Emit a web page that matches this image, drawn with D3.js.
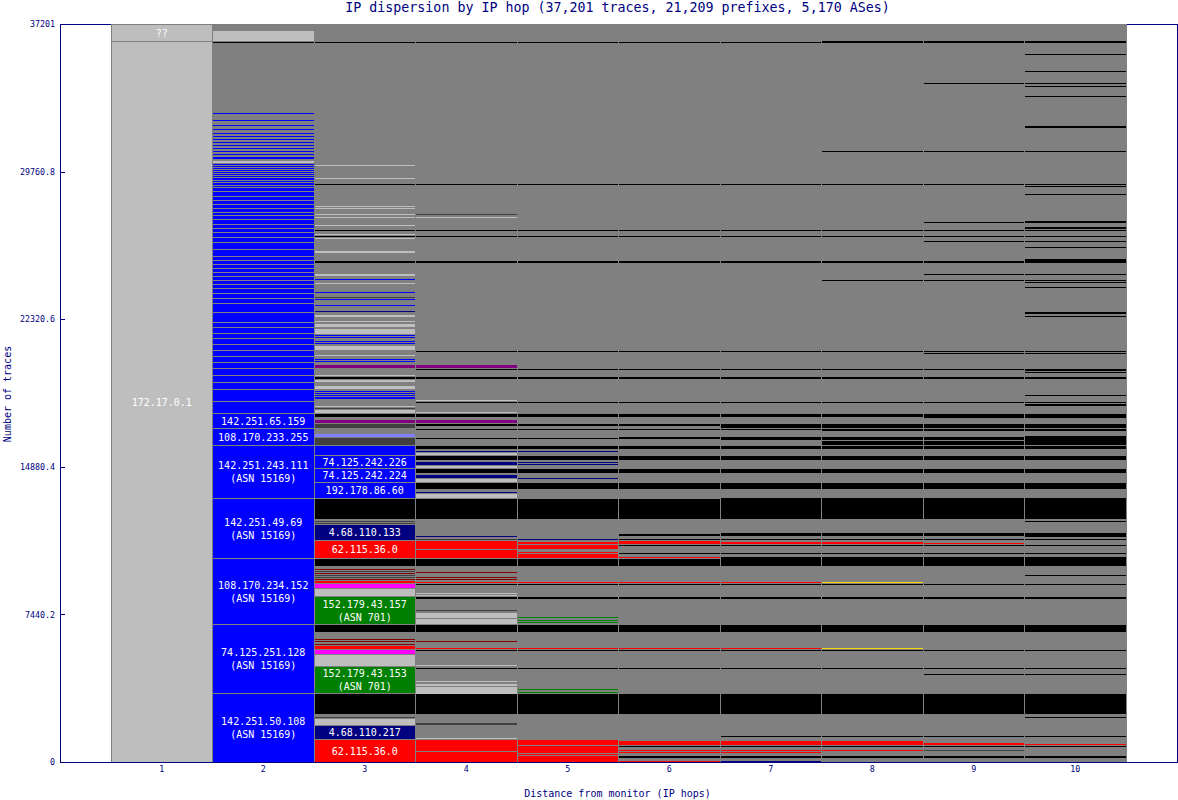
<!DOCTYPE html>
<html><head><meta charset="utf-8">
<script src="https://cdn.jsdelivr.net/npm/d3@7"></script>
<style>html,body{margin:0;padding:0;background:#fff}svg{display:block}text{font-family:"DejaVu Sans Mono",monospace}</style>
</head><body><svg id="c" width="1178" height="800"></svg>
<script>
const maxTraces = 37201;
const hopNumbers = [1,2,3,4,5,6,7,8,9,10];
const yTickValues = [0,7440.2,14880.4,22320.6,29760.8,37201];
const yTickLabels = ["0","7440.2","14880.4","22320.6","29760.8","37201"];
const chartTitle = "IP dispersion by IP hop (37,201 traces, 21,209 prefixes, 5,170 ASes)";
const xTitle = "Distance from monitor (IP hops)";
const yTitle = "Number of traces";

// band = [colour class, upper trace, lower trace, optional label]
const hop1 = [["L",37201,36338,"??"],["L",36338,0,"172.17.0.1"]];

const hop2Thin = [
 ["L",36893,36338],["B",36338,36238],
 ["U",32760,32659],["U",32407,32306],["U",32155,32054],["U",31954,31853],["U",31752,31651],
 ["U",31601,31500],["U",31450,31349],["U",31298,31198],["U",31147,31046],["U",30996,30895],
 ["U",30845,30744],["U",30694,30593],["U",30542,30391],["L",30341,30190]];
const hop2BlueCuts = [30190,30089,29988,29887,29786,29686,29585,29484,29333,29232,29081,28980,28778,28526,28325,28123,27922,27720,27569,27367,27115,26914,26712,26460,26208,25855,25502,25301,25099,24898,24696,24494,24293,24091,23890,23638,23386,23134,22680,22176,21924,21622,21370,21067,20765,20462,20160,19858,19505,19152,18799,18194,17590];
const hop2Named = [
 ["U",17590,16834,"142.251.65.159"],
 ["U",16834,15977,"108.170.233.255"],
 ["U",15977,13306,"142.251.243.111\n(ASN 15169)"],
 ["U",13306,10282,"142.251.49.69\n(ASN 15169)"],
 ["U",10282,6955,"108.170.234.152\n(ASN 15169)"],
 ["U",6955,3478,"74.125.251.128\n(ASN 15169)"],
 ["U",3478,0,"142.251.50.108\n(ASN 15169)"]];

const hop3 = [
 ["B",36338,36238],["L",30139,30038],["L",29484,29383],["B",29182,29081],["L",28073,27972],["L",27972,27871],
 ["L",27670,27569],["L",27518,27418],["L",27115,27014],["B",26863,26762],["L",26662,26561],["B",26561,26460],
 ["L",26460,26359],["L",25805,25654],["B",25301,25150],["L",24646,24494],["U",24394,24293],["L",24192,24091],
 ["U",23738,23638],["D",23486,23386],["U",23386,23285],["U",23083,22982],["N",22781,22680],["L",22579,22428],
 ["L",22277,22176],["L",22126,21924],["L",21874,21571],["U",21571,21470],["U",21470,21370],["U",21269,21168],
 ["U",21168,21067],["L",21017,20765],["L",20563,20462],["U",20362,20261],["U",20261,20160],["P",20059,19858],
 ["L",19555,19454],["B",19454,19303],["L",19303,19152],["L",19001,18799],["U",18749,18648],["U",18648,18547],
 ["U",18547,18446],["U",18446,18295],["L",17993,17892],["D",17892,17791],["L",17791,17590],["B",17590,17388],
 ["P",17287,17086],["D",17086,16834],["W",16582,16380],["D",16380,15977],["U",15977,15473],
 ["U",15473,14818,"74.125.242.226"],["U",14818,14112,"74.125.242.224"],["U",14112,13306,"192.178.86.60"],
 ["B",13306,12247],["D",12197,12096],["D",12096,11995],["N",11995,11189,"4.68.110.133"],["R",11189,10282,"62.115.36.0"],
 ["B",10282,9878],["K",9778,9677],["D",9677,9576],["K",9576,9475],["D",9475,9374],["D",9374,9274],["K",9274,9173],
 ["R",9173,9022],["M",9022,8770],["L",8770,8366],["G",8366,6955,"152.179.43.157\n(ASN 701)"],["B",6955,6552],
 ["K",6250,6149],["K",6149,6048],["K",5998,5897],["R",5897,5695],["M",5695,5443],["L",5443,4838],
 ["G",4838,3478,"152.179.43.153\n(ASN 701)"],["B",3478,2419],["D",2318,2218],["L",2218,1865],
 ["N",1865,1159,"4.68.110.217"],["R",1159,0,"62.115.36.0"]];

const blackHops4to10 = [
 [36338,36238],[29182,29081],[26863,26762],[26561,26460],[25301,25150],[20765,20664],[19858,19757],[19454,19303],
 [18194,18094],[17590,17388],[15977,15775],[15473,15221],[14818,14566],[14112,13759],[13306,12247],[10282,9878],
 [9022,8921],[8366,8215],[6955,6552],[5695,5594],[4788,4687],[3478,2419]];

const hop4 = [
 ["D",27670,27569],["L",27518,27418],["P",20059,19858],["L",18295,18194],["L",17690,17590],["P",17287,17086],
 ["B",17086,16934],["B",16834,16733],["B",16380,16279],["N",15725,15624],["L",15624,15473],["N",15170,14969],
 ["L",14969,14818],["N",14515,14314],["L",14314,14112],["N",13658,13558],["L",13558,13306],["N",11441,11340],
 ["D",11290,11189],["R",11189,10735],["R",10735,10282],["K",9626,9526],["K",9374,9274],["K",9274,9173],["R",9122,9022],
 ["L",8568,8467],["L",8467,8366],["D",7711,7610],["L",7560,7258],["L",7258,6955],["K",6149,6048],["R",5796,5695],
 ["L",4939,4838],["L",4133,4032],["L",3982,3830],["L",3830,3427],["D",2016,1865],["L",1260,1159],["R",1159,554],["R",554,0]];
const hop5 = [
 ["B",17086,16934],["B",16834,16733],["B",16380,16279],["N",15725,15624],["N",15170,15070],["N",15070,14969],["N",14364,14263],
 ["N",11290,11189],["R",11138,10987],["R",10987,10735],["R",10634,10534],["R",10534,10282],["R",9122,9022],
 ["G",7358,7258],["G",7207,7106],["G",7106,7006],["R",5796,5695],["G",3730,3629],["G",3578,3478],
 ["R",1159,857],["R",857,454],["R",454,353],["R",353,0]];
const hop6 = [
 ["B",17086,16934],["B",16834,16733],["B",16430,16279],["B",11542,11390],["B",11290,11189],["R",11189,10987],
 ["B",10987,10886],["B",10584,10483],["R",10382,10282],["R",9122,9022],["R",5796,5695],
 ["R",1109,857],["B",857,756],["R",655,554],["R",554,454],["B",353,202],["R",101,0]];
const hop7 = [
 ["B",17086,16834],["B",16834,16733],["B",16430,16229],["B",13356,13255],["B",11592,11390],["B",11290,11189],
 ["R",11138,10987],["B",10987,10886],["B",10584,10483],["B",10382,9878],["R",9122,9022],["R",5796,5695],
 ["B",1361,1260],["R",1109,857],["B",857,756],["R",655,554],["R",554,454],["B",353,202],["N",101,0]];
const hop8 = [
 ["B",36389,36238],["B",30845,30744],["B",24343,24242],["B",17086,16834],["B",16834,16682],["B",16430,16229],["B",16229,15977],
 ["B",13356,13255],["B",11592,11390],["B",11290,11189],["R",11138,10987],["B",10987,10886],["B",10584,10483],["B",10382,9878],
 ["Y",9122,9022],["Y",5796,5695],["B",1361,1260],["R",1109,857],["B",857,756],["R",655,554],["B",353,202]];
const hop9 = [
 ["B",36389,36238],["B",34272,34171],["B",30845,30744],["B",27266,27166],["B",26309,26208],["B",24646,24545],["B",24343,24242],
 ["B",20664,20563],["B",17438,17338],["B",17086,16834],["B",16834,16682],["B",16430,16229],["B",16229,15977],
 ["B",13356,13255],["B",11592,11390],["B",11290,11189],["R",11088,10987],["B",10987,10886],["B",10584,10483],["B",10382,9878],
 ["B",4486,4385],["B",1361,1260],["R",1008,857],["B",857,756],["D",655,554],["B",353,202]];
const hop10 = [
 ["B",36389,36238],["B",35734,35633],["B",34877,34776],["B",34272,34171],["B",34121,34020],["B",33617,33516],["B",32105,31954],
 ["B",30845,30744],["B",29081,28980],["B",28678,28577],["B",27317,27166],["B",27014,26863],["B",26309,26208],["B",26006,25906],
 ["B",25402,25150],["B",24646,24545],["B",24343,24242],["B",24242,24142],["B",23990,23890],["B",22730,22579],["B",22529,22428],
 ["B",20664,20563],["B",19858,19706],["B",19706,19606],["B",18547,18446],["B",18094,17942],["B",17438,17338],["B",17086,16834],
 ["B",16834,16682],["B",16481,15977],["B",13356,13255],["B",12197,12096],["B",11592,11340],["B",11290,11189],["B",10987,10886],
 ["B",10584,10483],["B",10382,9878],["B",9475,9374],["B",4486,4385],["B",2318,2218],["B",1361,1260],["R",958,857],["B",857,756],["B",353,202]];

const colours = {L:"#bebebe",B:"#000000",U:"#0000ff",N:"#000080",R:"#ff0000",G:"#008000",P:"#800080",
                 M:"#ff00ff",K:"#800000",D:"#404040",W:"#7f7fff",Y:"#ffd700"};

const common = blackHops4to10.map(([a,b]) => ["B",a,b]);
const columns = new Map([
 [1,hop1],
 [2,[...hop2Thin,...d3.pairs(hop2BlueCuts).map(([a,b]) => ["U",a,b]),...hop2Named]],
 [3,hop3],
 [4,[...common,...hop4]],[5,[...common,...hop5]],[6,[...common,...hop6]],[7,[...common,...hop7]],
 [8,[...common,...hop8]],[9,[...common,...hop9]],[10,[...common,...hop10]]]);

const W = {l:60,r:1177,t:24,b:762};
const svg = d3.select("#c");
const x = d3.scaleBand().domain(hopNumbers).range([111,1126]);
const y = d3.scaleLinear().domain([0,maxTraces]).range([W.b,W.t]);
const navy = "#000080";

svg.append("rect").attr("x",W.l+.5).attr("y",W.t+.5).attr("width",W.r-W.l).attr("height",W.b-W.t)
   .attr("fill","#fff").attr("stroke",navy).attr("shape-rendering","crispEdges");

const plot = svg.append("g").attr("shape-rendering","crispEdges");
plot.append("rect").attr("x",x(1)).attr("y",W.t).attr("width",x(10)+x.bandwidth()-x(1)+1).attr("height",W.b-W.t).attr("fill","#808080");

const left = h => Math.floor(x(h));
const right = h => h===10 ? Math.floor(x(h)+x.bandwidth()) : left(h+1);

hopNumbers.forEach(h => {
  const g = plot.append("g");
  g.selectAll("rect").data(columns.get(h)).join("rect")
    .attr("x",left(h)+1).attr("width",right(h)-left(h)-1)
    .attr("y",d => Math.round(y(d[1]))+1)
    .attr("height",d => Math.max(1,Math.round(y(d[2]))-Math.round(y(d[1]))-1))
    .attr("fill",d => colours[d[0]]);
});

const labels = svg.append("g").attr("fill","#fff").attr("font-size",10).attr("text-anchor","middle");
hopNumbers.forEach(h => {
  columns.get(h).filter(d => d[3]).forEach(d => {
    const lines = d[3].split("\n");
    const cy = (y(d[1])+y(d[2]))/2 + .5;
    const t = labels.append("text").attr("x",x(h)+x.bandwidth()/2);
    lines.forEach((s,i) => t.append("tspan").attr("x",x(h)+x.bandwidth()/2)
       .attr("y",cy+(i-(lines.length-1)/2)*13).attr("dy","0.35em").text(s));
  });
});

const yAxis = d3.axisLeft(y).tickValues(yTickValues).tickFormat((d,i) => yTickLabels[i]).tickSize(-5).tickPadding(5).tickSizeOuter(0);
const xAxis = d3.axisBottom(x).tickSize(0).tickPadding(4);
const ya = svg.append("g").attr("transform",`translate(${W.l},0)`).call(yAxis);
const xa = svg.append("g").attr("transform",`translate(0,${W.b})`).call(xAxis);
[ya,xa].forEach(a => {
  a.select(".domain").remove();
  a.selectAll("line").attr("stroke",navy).attr("shape-rendering","crispEdges");
  a.selectAll("text").attr("fill",navy).attr("font-size",8.3).attr("font-family",'"DejaVu Sans Mono",monospace');
});
svg.append("line").attr("x1",W.l).attr("x2",W.r+1).attr("y1",W.b+.5).attr("y2",W.b+.5).attr("stroke",navy).attr("shape-rendering","crispEdges");

svg.append("text").attr("x",617.5).attr("y",12).attr("text-anchor","middle").attr("font-size",13.3).attr("fill",navy).text(chartTitle);
svg.append("text").attr("x",617.5).attr("y",797).attr("text-anchor","middle").attr("font-size",10).attr("fill",navy).text(xTitle);
svg.append("text").attr("transform","translate(11,394) rotate(-90)").attr("text-anchor","middle").attr("font-size",10).attr("fill",navy).text(yTitle);
</script></body></html>
